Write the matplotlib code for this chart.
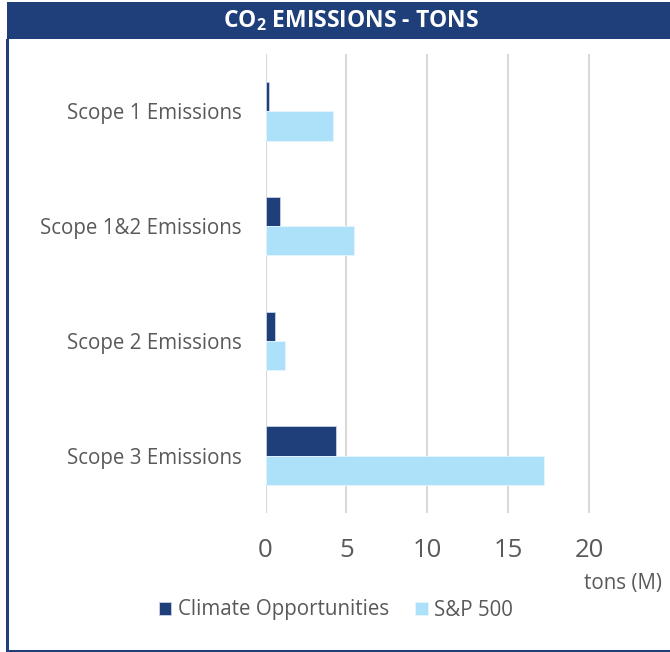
import matplotlib
matplotlib.use("Agg")
import matplotlib.pyplot as plt
from matplotlib.patches import Rectangle
import numpy as np

categories = ["Scope 1 Emissions", "Scope 1&2 Emissions", "Scope 2 Emissions", "Scope 3 Emissions"]
climate_opp = [0.24, 0.9, 0.57, 4.37]
sp500 = [4.2, 5.5, 1.22, 17.2]
series_names = ["Climate Opportunities", "S&P 500"]
xticks = [0, 5, 10, 15, 20]

NAVY = "#1F3F7A"
LIGHT = "#ADE1FA"
GRAY = "#595959"

plt.rcParams['font.family'] = ['Open Sans', 'DejaVu Sans']
plt.rcParams['mathtext.fontset'] = 'custom'
plt.rcParams['mathtext.bf'] = 'Open Sans:bold'
plt.rcParams['mathtext.rm'] = 'Open Sans'

W, H = 670, 652
fig = plt.figure(figsize=(W/100, H/100), dpi=100)

def fx(px): return px / W
def fy(py): return 1 - py / H

# title bar
fig.patches.append(Rectangle((fx(7), fy(39)), fx(670) - fx(7), fy(2) - fy(39),
                             transform=fig.transFigure, facecolor=NAVY, edgecolor='none', zorder=0))
fig.text(fx(351), fy(21), r"CO$_\mathbf{2}$ EMISSIONS - TONS", color='white', fontsize=16.5,
         fontweight='bold', ha='center', va='center')
# frame borders
fig.patches.append(Rectangle((fx(6), fy(651)), fx(2.5), fy(39) - fy(651),
                             transform=fig.transFigure, facecolor=NAVY, edgecolor='none'))
fig.patches.append(Rectangle((fx(6), fy(652)), 1 - fx(6), fx(2.2) * W / H,
                             transform=fig.transFigure, facecolor=NAVY, edgecolor='none'))

ax = fig.add_axes([fx(265.5), fy(513), 1 - fx(265.5), fy(54) - fy(513)])
y = np.arange(len(categories))
h = 0.255
ax.barh(y - h/2, climate_opp, height=h, color=NAVY, edgecolor='#C9D3E6', linewidth=0.6,
        label=series_names[0], zorder=3)
ax.barh(y + h/2, sp500, height=h, color=LIGHT, edgecolor='#E6F6FE', linewidth=0.6,
        label=series_names[1], zorder=3)
ax.set_ylim(3.5, -0.5)
ax.set_xlim(0, 25)
ax.set_xticks(xticks)
ax.set_xticklabels([str(t) for t in xticks])
ax.set_yticks(y)
ax.set_yticklabels(categories)
ax.tick_params(axis='y', length=0, pad=17, labelsize=14.8, labelcolor=GRAY)
ax.tick_params(axis='x', length=0, pad=18, labelsize=18.5, labelcolor=GRAY)
for s in ax.spines.values():
    s.set_visible(False)
ax.grid(axis='x', color='#D9D9D9', linewidth=1.5, zorder=0)
ax.set_axisbelow(True)

fig.text(fx(662), fy(583), "tons (M)", fontsize=14.8, color=GRAY, ha='right', va='center')

handles, labels = ax.get_legend_handles_labels()
leg = fig.legend(handles, labels, loc='center', bbox_to_anchor=(fx(336), fy(610)), ncol=2,
                 frameon=False, fontsize=14.8, handlelength=0.6, handleheight=0.6,
                 handletextpad=0.3, columnspacing=1.3, labelcolor=GRAY)

fig.savefig("out.png", dpi=100)
